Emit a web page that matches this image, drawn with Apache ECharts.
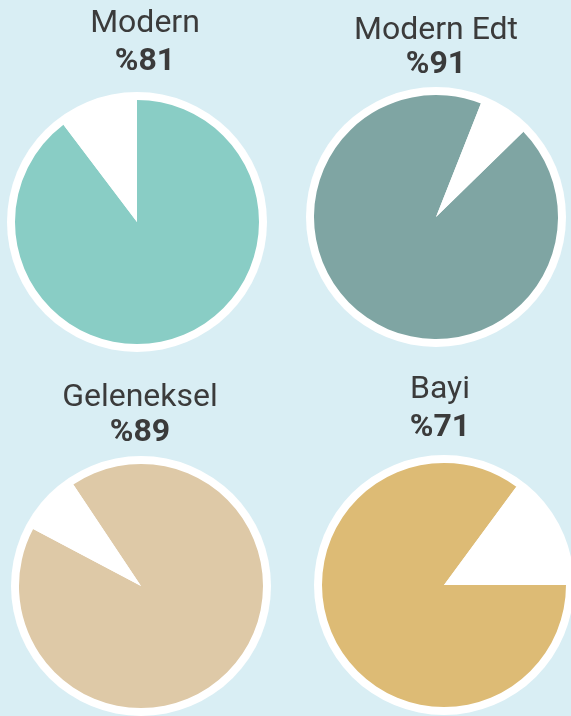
<!DOCTYPE html>
<html>
<head>
<meta charset="utf-8">
<script src="https://cdn.jsdelivr.net/npm/echarts@6/dist/echarts.min.js"></script>
<style>
  html, body { margin: 0; padding: 0; background: #d9eef4; }
  #chart { width: 571px; height: 716px; }
</style>
</head>
<body>
<div id="chart"></div>
<script>
// data
const names = ['Modern', 'Modern Edt', 'Geleneksel', 'Bayi'];
const shownPct = [81, 91, 89, 71];          // the printed percentages
const filledShare = [89.7, 93.3, 92.1, 85.1]; // coloured part as drawn
const gapShare = [10.3, 6.7, 7.9, 14.9];      // white wedge as drawn

// layout
const colors = ['#89cdc5', '#7fa5a3', '#dec9a7', '#ddbb75'];
const centers = [[137, 222], [436, 217], [141, 586], [444, 585]];
const startAngles = [90, 44.3, 123.7, 0];
const nameY = [24, 31, 398, 390];
const pctY = [62, 65, 433, 428];
const textX = [145, 436, 140, 440];

const series = [];
const graphics = [];

names.forEach((name, i) => {
  // white disk behind each pie
  series.push({
    type: 'pie',
    silent: true,
    center: centers[i],
    radius: 130,
    label: { show: false },
    labelLine: { show: false },
    itemStyle: { color: '#ffffff', borderWidth: 0 },
    data: [{ value: 1, name: name + ' bg' }]
  });
  series.push({
    type: 'pie',
    silent: true,
    center: centers[i],
    radius: 122,
    startAngle: startAngles[i],
    clockwise: true,
    label: { show: false },
    labelLine: { show: false },
    itemStyle: { borderWidth: 0 },
    data: [
      { value: filledShare[i], name: name, itemStyle: { color: colors[i] } },
      { value: gapShare[i], name: name + ' rest', itemStyle: { color: '#ffffff' } }
    ]
  });

  graphics.push({
    type: 'text',
    x: textX[i],
    y: nameY[i],
    style: {
      text: name,
      font: '400 32px Roboto',
      fill: '#3b3b3b',
      align: 'center',
      verticalAlign: 'middle'
    }
  });
  graphics.push({
    type: 'text',
    x: textX[i],
    y: pctY[i],
    style: {
      text: '%' + shownPct[i],
      font: '700 32px Roboto',
      fill: '#3b3b3b',
      align: 'center',
      verticalAlign: 'middle'
    }
  });
});

const myChart = echarts.init(document.getElementById('chart'));
myChart.setOption({
  backgroundColor: '#d9eef4',
  animation: false,
  graphic: graphics,
  series: series
});
</script>
</body>
</html>
